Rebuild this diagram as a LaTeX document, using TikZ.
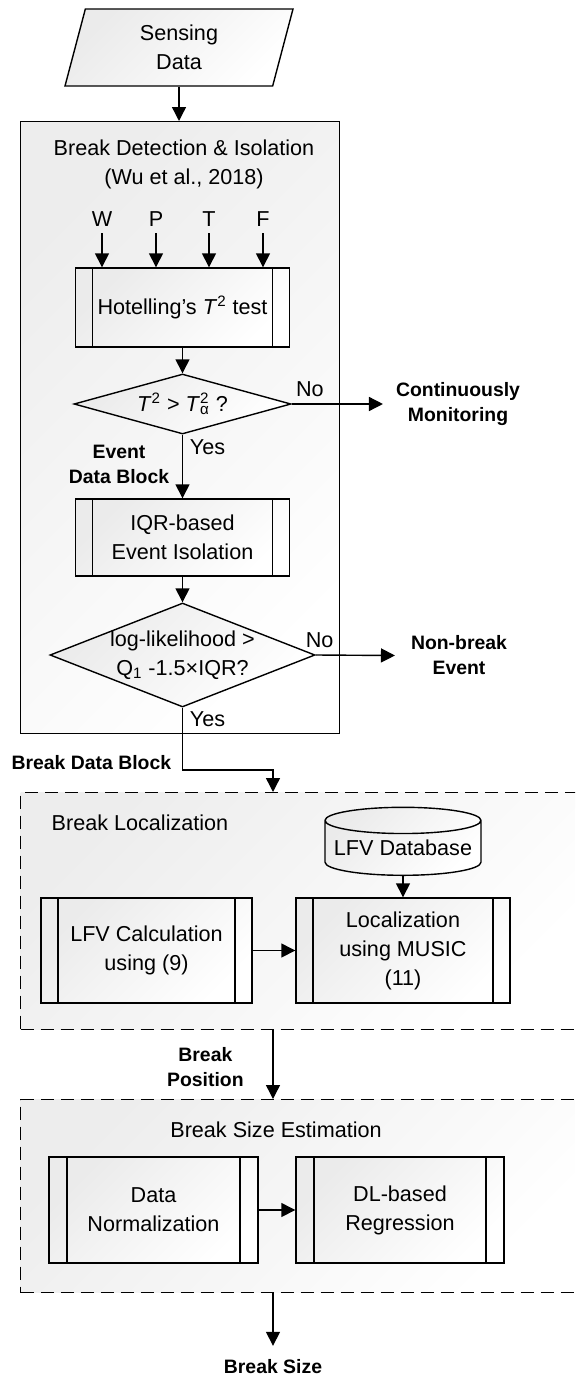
\documentclass[tikz,border=0pt]{standalone}
\usepackage{fontspec}
\setmainfont{Liberation Sans}
\usetikzlibrary{shapes.geometric, arrows.meta, positioning}

\tikzset{
  every node/.style={font=\fontsize{10.8}{14.5}\selectfont},
  arrow/.style={-{Triangle[length=7pt, width=7pt]}, line width=0.7pt},
  shadefill/.style={top color=gray!16, bottom color=white, shading angle=45},
  % predefined process: box with a strip on each side
  procbox/.style={draw, line width=0.7pt, shadefill, align=center, inner sep=0pt,
    path picture={
      \draw[line width=0.7pt] ([xshift=#1]path picture bounding box.north west)
        -- ([xshift=#1]path picture bounding box.south west);
      \draw[line width=0.7pt] ([xshift=-#1]path picture bounding box.north east)
        -- ([xshift=-#1]path picture bounding box.south east);
    }},
  procbox/.default=8.5pt,
  decision/.style={diamond, draw, line width=0.7pt, shadefill, inner sep=0pt, align=center},
  datain/.style={trapezium, trapezium left angle=65.6, trapezium right angle=114.4,
    trapezium stretches body, draw, line width=0.7pt, shadefill, align=center,
    minimum width=114pt, minimum height=38.5pt, inner sep=0pt},
  dbase/.style={cylinder, shape border rotate=90, aspect=0.19, draw, line width=0.7pt,
    shadefill, minimum width=78pt, minimum height=34pt, inner sep=0pt},
  stage/.style={draw, line width=0.6pt, top color=gray!14, bottom color=white,
    shading angle=45, anchor=north west, inner sep=0pt},
  dashedstage/.style={stage, dash pattern=on 6.5pt off 3.5pt},
  outcome/.style={font=\fontsize{9.7}{12.5}\selectfont\bfseries, align=center},
}

\begin{document}
\begin{tikzpicture}[x=0.5pt, y=-0.5pt]
    \useasboundingbox (0,0) rectangle (575,1376);
    \clip (0,0) rectangle (575,1376);

    % Input
    \node[datain] (sensing) at (179,47.5) {Sensing\\Data};

    % Stage 1: detection and isolation
    \node[stage, minimum width=159.5pt, minimum height=306pt] (detect) at (20,121) {};
    \node[align=center] (detect-title) at (184,164.5) {Break Detection \& Isolation\\(Wu et al., 2018)};

    \node[procbox, minimum width=107pt, minimum height=39.5pt] (hotelling) at (182.5,307.5)
        {Hotelling’s \textit{T}\textsuperscript{2} test};
    \foreach \var/\x in {W/102, P/156, T/209, F/263} {
        \node (in-\var) at (\x,219) {\var};
        \draw[arrow] (in-\var.south) -- (in-\var.south |- hotelling.north);
    }

    \node[decision, aspect=3.62, minimum width=108.5pt, minimum height=30pt] (test1) at (182.5,404)
        {\textit{T}\textsuperscript{2} > \textit{T}\makebox[0pt][l]{\textsuperscript{2}}\textsubscript{α} ?};
    \node[outcome] (monitor) at (458,404) {Continuously\\Monitoring};

    \node[procbox, minimum width=107pt, minimum height=38.5pt] (iqr) at (182.5,537.5)
        {IQR-based\\Event Isolation};

    \node[decision, aspect=2.55, minimum width=132.5pt, minimum height=52pt, inner xsep=-3pt] (test2) at (182.5,655)
        {log-likelihood >\\Q\textsubscript{1} -1.5×IQR?};
    \node[outcome] (nonbreak) at (459,655.5) {Non-break\\Event};

    \coordinate (bend) at (273,770);

    % Stage 2: localization
    \node[dashedstage, minimum width=280pt, minimum height=118.5pt] (locate) at (20,792) {};
    \node (locate-title) at (140,823) {Break Localization};
    \node[dbase, anchor=south] (db) at (403,876) {LFV Database};
    \node[procbox, minimum width=105.5pt, minimum height=52.5pt] (calc) at (146.5,950.5)
        {LFV Calculation\\using (9)};
    \node[procbox, minimum width=107pt, minimum height=52.5pt] (music) at (403,950.5)
        {Localization\\using MUSIC\\(11)};

    % Stage 3: size estimation
    \node[dashedstage, minimum width=280pt, minimum height=96.5pt] (sizing) at (20,1099) {};
    \node (sizing-title) at (276,1130) {Break Size Estimation};
    \node[procbox=9pt, minimum width=104.5pt, minimum height=53pt] (norm) at (153.5,1210)
        {Data\\Normalization};
    \node[procbox=9pt, minimum width=104pt, minimum height=53pt] (dlreg) at (400,1210)
        {DL-based\\Regression};

    \node[outcome] (size) at (273,1367) {Break Size};

    % Flow
    \draw[arrow] (sensing.south) -- (sensing.south |- detect.north);
    \draw[arrow] (hotelling.south) -- (test1.north);
    \draw[arrow] (test1.east) -- node[above, pos=0.2] {No} ([xshift=-3pt]monitor.west);
    \draw[arrow] (test1.south) -- node[right, pos=0.2] {Yes}
        node[outcome, left, pos=0.46, xshift=-3pt] {Event\\Data Block} (iqr.north);
    \draw[arrow] (iqr.south) -- (test2.north);
    \draw[arrow] (test2.east) -- node[above, pos=0.05] {No} ([xshift=-4.5pt]nonbreak.west);
    \draw[arrow] (test2.south) |- node[right, pos=0.09] {Yes}
        node[outcome, left, pos=0.44, xshift=-2pt] {Break Data Block} (bend)
        -- (bend |- locate.north);
    \draw[arrow] (db.south) -- (music.north);
    \draw[arrow] (calc.east) -- (music.west);
    \draw[arrow] (bend |- locate.south) -- node[outcome, left, pos=0.53, xshift=-11pt] {Break\\Position}
        (bend |- sizing.north);
    \draw[arrow] (norm.east) -- (dlreg.west);
    \draw[arrow] (bend |- sizing.south) -- ([yshift=3.5pt]size.north);
\end{tikzpicture}
\end{document}
